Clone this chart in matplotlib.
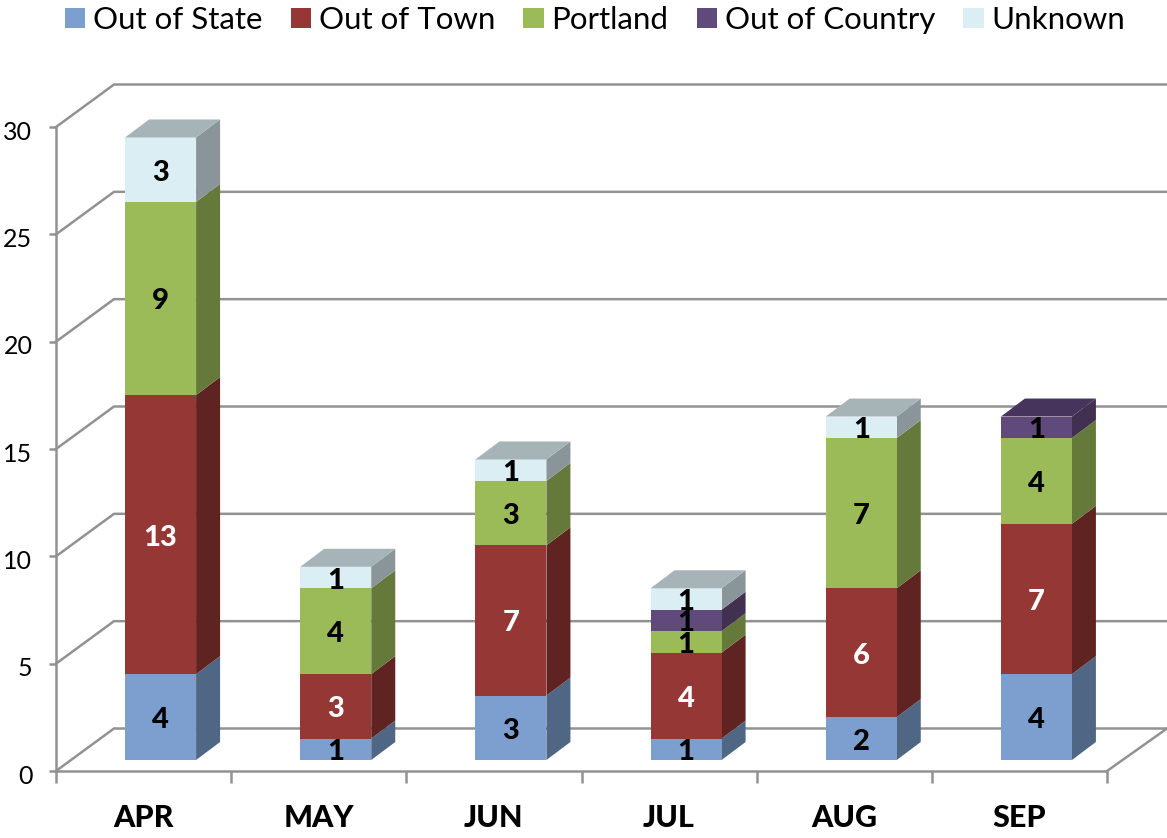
import matplotlib
matplotlib.use("Agg")
import matplotlib.pyplot as plt
from matplotlib.patches import Polygon, Patch
from matplotlib.transforms import Affine2D

plt.rcParams['font.family'] = ['Lato', 'DejaVu Sans']

months = ["APR", "MAY", "JUN", "JUL", "AUG", "SEP"]
series_names = ["Out of State", "Out of Town", "Portland", "Out of Country", "Unknown"]
out_of_state = [4, 1, 3, 1, 2, 4]
out_of_town = [13, 3, 7, 4, 6, 7]
portland = [9, 4, 3, 1, 7, 4]
out_of_country = [0, 0, 0, 1, 0, 1]
unknown = [3, 1, 1, 1, 1, 0]
series_values = [out_of_state, out_of_town, portland, out_of_country, unknown]
y_ticks = [0, 5, 10, 15, 20, 25, 30]

front_colors = ["#7C9FCF", "#953735", "#9BBB59", "#604A7B", "#DBEEF4"]
side_colors = ["#4F6785", "#5F2321", "#657A3A", "#41304F", "#8A9599"]
top_colors = ["#5E7BA0", "#74302E", "#7A9148", "#46345C", "#A6B4B8"]
label_colors = ["black", "white", "black", "black", "black"]
grid_color = "#929292"

W, H = 1167, 838
fig = plt.figure(figsize=(W / 100, H / 100), dpi=100, facecolor="white")
ax = fig.add_axes([56 / W, (H - 771) / H, 1051 / W, 644 / H])
ax.set_xlim(0, 6)
ax.set_ylim(0, 30)

px_x = 6 / 1051
px_y = 30 / 644
wall_dx, wall_dy = 58 * px_x, 42.5 * px_y
bar_dx, bar_dy = 24 * px_x, 18 * px_y
bar_w = 71 * px_x
grid_lw = 1.8

for s in ["top", "right"]:
    ax.spines[s].set_visible(False)
for s in ["left", "bottom"]:
    ax.spines[s].set_color(grid_color)
    ax.spines[s].set_linewidth(grid_lw)

# back wall gridlines and floor outline
for v in y_ticks:
    ax.plot([0, wall_dx, 6 + wall_dx + 2 * px_x], [v, v + wall_dy, v + wall_dy],
            color=grid_color, lw=grid_lw, clip_on=False, zorder=1, solid_joinstyle="miter")
ax.plot([6, 6 + wall_dx + 2 * px_x], [0, wall_dy], color=grid_color, lw=grid_lw, clip_on=False, zorder=1)

ax.set_yticks(y_ticks)
ax.set_yticklabels([str(v) for v in y_ticks], fontsize=18)
ax.tick_params(axis="y", length=5, width=grid_lw, color=grid_color, pad=12)
for lab in ax.get_yticklabels():
    lab.set_transform(lab.get_transform() + Affine2D().translate(0, -3))
ax.set_xticks(range(7))
ax.set_xticklabels([""] * 7)
ax.tick_params(axis="x", which="major", length=8.5, width=grid_lw, color=grid_color)
ax.set_xticks([i + 0.5 for i in range(6)], minor=True)
ax.set_xticklabels(months, minor=True, fontsize=22, fontweight=900)
ax.tick_params(axis="x", which="minor", length=0, pad=24)

front = ax.transData + Affine2D().translate(17, 11)
text_tf = front + Affine2D().translate(0, -3)

for i in range(6):
    x0 = i + 0.5 - bar_w / 2
    x1 = i + 0.5 + bar_w / 2
    base = 0
    last = 0
    for k, vals in enumerate(series_values):
        v = vals[i]
        if v == 0:
            continue
        ax.bar(i + 0.5, v, bar_w, bottom=base, color=front_colors[k], transform=front,
               clip_on=False, zorder=3, linewidth=0)
        ax.add_patch(Polygon([(x1, base), (x1 + bar_dx, base + bar_dy),
                              (x1 + bar_dx, base + v + bar_dy), (x1, base + v)],
                             closed=True, facecolor=side_colors[k], edgecolor="none",
                             transform=front, clip_on=False, zorder=2 + 0.01 * k))
        ax.text(i + 0.5, base + v / 2, str(v), transform=text_tf, ha="center", va="center",
                color=label_colors[k], fontsize=21, fontweight=900, zorder=5, clip_on=False)
        base += v
        last = k
    ax.add_patch(Polygon([(x0, base), (x0 + bar_dx, base + bar_dy),
                          (x1 + bar_dx, base + bar_dy), (x1, base)],
                         closed=True, facecolor=top_colors[last], edgecolor="none",
                         transform=front, clip_on=False, zorder=3))

handles = [Patch(facecolor=c, edgecolor="none") for c in front_colors]
fig.legend(handles, series_names, ncol=5, loc="upper left", bbox_to_anchor=(65 / W, 1 - 6 / H),
           frameon=False, fontsize=22.5, handlelength=0.65, handleheight=0.65,
           handletextpad=0.25, columnspacing=0.9, borderpad=0, borderaxespad=0)

fig.savefig("out.png", dpi=100, facecolor="white")
